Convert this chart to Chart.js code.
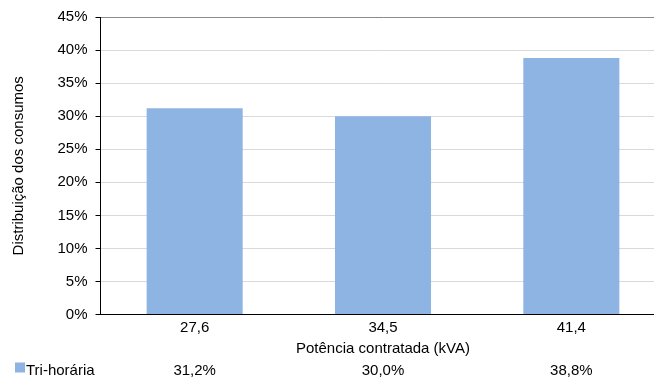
<!DOCTYPE html>
<html>
<head>
<meta charset="utf-8">
<script src="https://cdn.jsdelivr.net/npm/chart.js@4"></script>
<style>
html,body{margin:0;padding:0;overflow:hidden;background:#fff;}
#wrap{width:670px;height:378px;}
</style>
</head>
<body>
<div id="wrap"><canvas id="c" width="670" height="378"></canvas></div>
<script>
const categories = ['27,6', '34,5', '41,4'];
const seriesName = 'Tri-horária';
const triHoraria = [31.2, 30.0, 38.8];
const yTicks = [0, 5, 10, 15, 20, 25, 30, 35, 40, 45];

const BAR_COLOR = '#8EB4E3';
const FONT = "'Liberation Sans', Arial, sans-serif";

const fmt = v => v.toFixed(1).replace('.', ',') + '%';

const dataTable = {
  id: 'dataTable',
  afterDraw(chart) {
    const ctx = chart.ctx;
    const x = chart.scales.x;
    const y0 = 370.5;
    ctx.save();
    ctx.font = '15px ' + FONT;
    ctx.textBaseline = 'middle';
    ctx.fillStyle = BAR_COLOR;
    ctx.fillRect(15, y0 - 8, 10, 10);
    ctx.fillStyle = '#000';
    ctx.textAlign = 'left';
    ctx.fillText(seriesName, 26, y0);
    ctx.textAlign = 'center';
    triHoraria.forEach((v, i) => {
      ctx.fillText(fmt(v), x.getPixelForValue(i), y0);
    });
    ctx.restore();
  }
};

new Chart(document.getElementById('c'), {
  type: 'bar',
  data: {
    labels: categories,
    datasets: [{
      label: seriesName,
      data: triHoraria,
      backgroundColor: BAR_COLOR,
      borderWidth: 0,
      barPercentage: 0.51,
      categoryPercentage: 1
    }]
  },
  options: {
    responsive: false,
    animation: false,
    devicePixelRatio: 1,
    layout: { padding: { left: 0, right: 4.5, top: 16.7, bottom: 0 } },
    plugins: { legend: { display: false }, tooltip: { enabled: false } },
    scales: {
      x: {
        offset: true,
        grid: { display: false, drawTicks: false },
        border: { display: true, color: '#000', width: 1 },
        ticks: { color: '#000', font: { family: FONT, size: 15 }, padding: 4 },
        title: {
          display: true,
          text: 'Potência contratada (kVA)',
          color: '#000',
          font: { family: FONT, size: 15 },
          padding: { top: 0, bottom: 20.5 }
        },
        afterFit(scale) { scale.height = 378 - 314.6; }
      },
      y: {
        min: 0,
        max: 45,
        afterBuildTicks(scale) { scale.ticks = yTicks.map(v => ({ value: v })); },
        grid: {
          color: ctx => (ctx.tick && ctx.tick.value === 45) ? '#8a8a8a' : '#D9D9D9',
          lineWidth: 1,
          drawTicks: true,
          tickLength: 5,
          tickColor: '#000'
        },
        border: { display: true, color: '#000', width: 1 },
        ticks: {
          color: '#000',
          font: { family: FONT, size: 15 },
          padding: 8,
          callback: v => v + '%'
        },
        title: {
          display: true,
          text: 'Distribuição dos consumos',
          color: '#000',
          font: { family: FONT, size: 15 },
          padding: { top: 9.5, bottom: 0 }
        },
        afterFit(scale) { scale.width = 100.5; }
      }
    }
  },
  plugins: [dataTable]
});
</script>
</body>
</html>
